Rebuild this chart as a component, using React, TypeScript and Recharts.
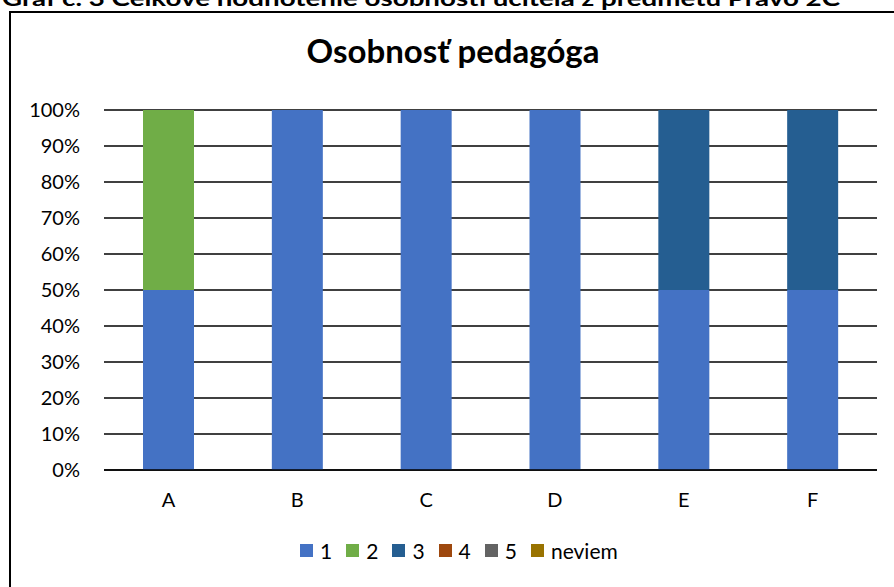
import { BarChart, Bar, XAxis, YAxis, CartesianGrid } from "recharts";

const categories = ["A", "B", "C", "D", "E", "F"];
const seriesNames = ["1", "2", "3", "4", "5", "neviem"];
const seriesColors = ["#4472C4", "#70AD47", "#255E91", "#9E480E", "#636363", "#997300"];
const values1 = [50, 100, 100, 100, 50, 50];
const values2 = [50, 0, 0, 0, 0, 0];
const values3 = [0, 0, 0, 0, 50, 50];
const values4 = [0, 0, 0, 0, 0, 0];
const values5 = [0, 0, 0, 0, 0, 0];
const valuesNeviem = [0, 0, 0, 0, 0, 0];
const yTicks = [0, 10, 20, 30, 40, 50, 60, 70, 80, 90, 100];

const allValues = [values1, values2, values3, values4, values5, valuesNeviem];

const data = categories.map((cat, i) => {
  const row: Record<string, string | number> = { name: cat };
  seriesNames.forEach((s, k) => {
    row[s] = allValues[k][i];
  });
  return row;
});

const font = "Lato, 'Open Sans', sans-serif";

const LegendRow = () => (
  <div
    style={{
      position: "absolute",
      top: 538,
      left: 300,
      display: "flex",
      alignItems: "center",
      fontFamily: font,
      fontSize: 21,
      color: "#000",
    }}
  >
    {seriesNames.map((s, k) => (
      <div key={s} style={{ display: "flex", alignItems: "center", marginRight: 14 }}>
        <span
          style={{
            width: 13,
            height: 13,
            background: seriesColors[k],
            display: "inline-block",
            marginRight: 7,
          }}
        />
        <span>{s}</span>
      </div>
    ))}
  </div>
);

export default function App() {
  return (
    <div
      style={{
        position: "absolute",
        top: 0,
        left: 0,
        width: 894,
        height: 587,
        overflow: "hidden",
        background: "#fff",
      }}
    >
      {/* caption of the document, cut at the top edge */}
      <svg width={894} height={12} style={{ position: "absolute", top: 0, left: 0 }}>
        <text
          x={2}
          y={6}
          textLength={838}
          lengthAdjust="spacingAndGlyphs"
          style={{ fontFamily: font, fontWeight: 700, fontSize: 21 }}
          fill="#000"
        >
          Graf č. 3 Celkové hodnotenie osobnosti učiteľa z predmetu Právo 2C
        </text>
      </svg>
      <div
        style={{
          position: "absolute",
          top: 11,
          left: 9,
          width: 900,
          height: 600,
          border: "2px solid #000",
          boxSizing: "border-box",
        }}
      />
      <div
        style={{
          position: "absolute",
          top: 30,
          left: 0,
          width: 906,
          textAlign: "center",
          fontFamily: font,
          fontWeight: 700,
          fontSize: 33,
        }}
      >
        Osobnosť pedagóga
      </div>
      <div style={{ position: "absolute", top: 0, left: 0 }}>
        <BarChart
          width={894}
          height={587}
          data={data}
          margin={{ top: 110, right: 17, bottom: 77, left: 0 }}
          barSize={51}
        >
          <CartesianGrid vertical={false} stroke="#000" strokeWidth={1.6} />
          <XAxis
            dataKey="name"
            height={40}
            axisLine={{ stroke: "#000", strokeWidth: 1.6 }}
            tickLine={false}
            tickSize={0}
            tickMargin={23}
            tick={{ fill: "#000", fontFamily: font, fontSize: 20 }}
          />
          <YAxis
            width={104}
            domain={[0, 100]}
            ticks={yTicks}
            axisLine={false}
            tickLine={false}
            tickSize={0}
            tickMargin={24}
            tickFormatter={(v: number) => `${v}%`}
            tick={{ fill: "#000", fontFamily: font, fontSize: 20 }}
          />
          {seriesNames.map((s, k) => (
            <Bar
              key={s}
              dataKey={s}
              stackId="a"
              fill={seriesColors[k]}
              isAnimationActive={false}
            />
          ))}
        </BarChart>
      </div>
      <LegendRow />
    </div>
  );
}
